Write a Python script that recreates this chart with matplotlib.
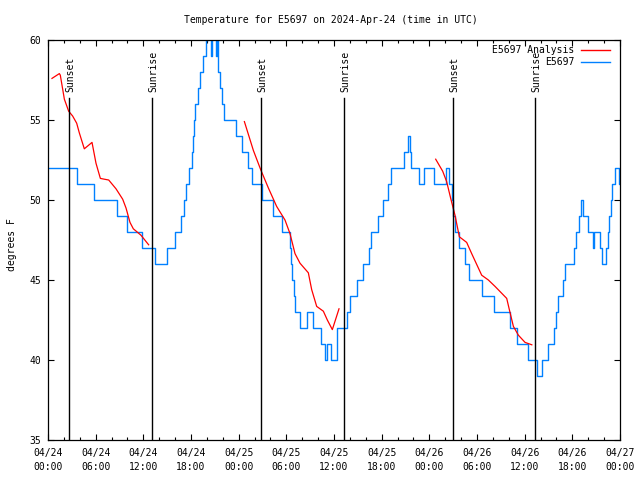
import matplotlib
matplotlib.use("Agg")
import matplotlib.pyplot as plt
from matplotlib.ticker import MultipleLocator
import numpy as np

# hours since 2024-04-24 00:00 UTC
obs_hours = [0.0, 3.7, 5.75, 8.73, 9.94, 11.79, 13.51, 15.02, 15.94, 16.7,
             17.08, 17.37, 17.79, 18.08, 18.21, 18.33, 18.5, 18.84, 19.13, 19.47,
             19.89, 20.1, 20.55, 20.7, 21.1, 21.25, 21.45, 21.65, 21.85, 22.2,
             23.7, 24.46, 25.13, 25.72, 26.9, 28.37, 29.4, 30.46, 30.59, 30.76,
             30.93, 31.09, 31.72, 32.6, 33.4, 34.41, 34.91, 35.16, 35.67, 36.34,
             37.6, 38.02, 38.86, 39.7, 40.45, 40.66, 41.54, 42.13, 42.76, 43.18,
             44.86, 45.28, 45.57, 45.74, 46.66, 47.37, 48.55, 50.1, 50.44, 50.86,
             51.0, 51.27, 51.78, 52.49, 53.04, 54.68, 56.19, 58.16, 59.0, 60.47,
             61.55, 62.23, 62.94, 63.65, 63.95, 64.24, 64.79, 65.08, 66.17, 66.47,
             66.8, 67.1, 67.39, 67.93, 68.56, 68.73, 69.53, 69.73, 70.24, 70.45,
             70.66, 70.83, 71.04, 71.42, 71.84, 72.0]
obs_temps = [52, 51, 50, 49, 48, 47, 46, 47, 48, 49,
             50, 51, 52, 53, 54, 55, 56, 57, 58, 59,
             60, 61, 59, 61, 59, 61, 58, 57, 56, 55,
             54, 53, 52, 51, 50, 49, 48, 47, 46, 45,
             44, 43, 42, 43, 42, 41, 40, 41, 40, 42,
             43, 44, 45, 46, 47, 48, 49, 50, 51, 52,
             53, 54, 53, 52, 51, 52, 51, 52, 51, 50,
             49, 48, 47, 46, 45, 44, 43, 42, 41, 40,
             39, 40, 41, 42, 43, 44, 45, 46, 47, 48,
             49, 50, 49, 48, 47, 48, 47, 46, 47, 48,
             49, 50, 51, 52, 51, 51]

ana_hours_1 = [0.5, 1.43, 1.55, 2.06, 2.6, 3.1, 3.61, 3.94, 4.57, 5.54, 6.04, 6.59,
               7.09, 7.64, 8.56, 9.4, 9.82, 10.32, 10.74, 11.7, 12.67]
ana_temps_1 = [57.6, 57.9, 57.8, 56.3, 55.55, 55.25, 54.8, 54.2, 53.2, 53.6, 52.3, 51.35,
               51.3, 51.25, 50.7, 50.05, 49.5, 48.6, 48.2, 47.8, 47.2]
ana_hours_2 = [24.72, 25.85, 26.77, 27.74, 28.78, 29.83, 30.46, 31.09, 31.72, 32.77,
               33.19, 33.82, 34.66, 35.16, 35.79, 36.63]
ana_temps_2 = [54.9, 53.1, 51.9, 50.75, 49.6, 48.75, 47.9, 46.65, 46.05, 45.45,
               44.4, 43.35, 43.05, 42.5, 41.9, 43.2]
ana_hours_3 = [48.8, 49.68, 50.18, 50.69, 51.23, 51.78, 52.7, 53.33, 54.59, 55.43,
               56.27, 57.74, 58.07, 58.58, 59.21, 60.05, 60.9]
ana_temps_3 = [52.55, 51.8, 51.15, 50.1, 49.05, 47.7, 47.35, 46.65, 45.3, 45.0,
               44.6, 43.85, 43.15, 42.1, 41.55, 41.1, 40.95]

sunset_hours = [2.68, 26.85, 51.02]
sunrise_hours = [13.13, 37.3, 61.34]

xtick_hours = [0, 6, 12, 18, 24, 30, 36, 42, 48, 54, 60, 66, 72]
xtick_labels = ["04/24\n00:00", "04/24\n06:00", "04/24\n12:00", "04/24\n18:00",
                "04/25\n00:00", "04/25\n06:00", "04/25\n12:00", "04/25\n18:00",
                "04/26\n00:00", "04/26\n06:00", "04/26\n12:00", "04/26\n18:00",
                "04/27\n00:00"]

plt.rcParams['font.family'] = ['DejaVu Sans Mono']
plt.rcParams['font.size'] = 7

fig = plt.figure(figsize=(6.4, 4.8), dpi=100)
ax = fig.add_axes([48/640, 40/480, 572/640, 400/480])

blue = '#0080ff'
red = '#ff0000'

ax.plot(obs_hours, obs_temps, drawstyle='steps-post', color=blue, lw=1.0)
for hh, tt in [(ana_hours_1, ana_temps_1), (ana_hours_2, ana_temps_2), (ana_hours_3, ana_temps_3)]:
    ax.plot(hh, tt, color=red, lw=0.9)

# sunset / sunrise markers
line_top = 56.375
for name, hours in [("Sunset", sunset_hours), ("Sunrise", sunrise_hours)]:
    for h in hours:
        ax.plot([h, h], [35, line_top], color='black', lw=1.0)
        ax.text(h + 0.15, line_top + 0.4, name, rotation=90, ha='center', va='bottom',
                fontsize=7)

ax.set_xlim(0, 72)
ax.set_ylim(35, 60)
ax.set_xticks(xtick_hours)
ax.set_xticklabels(xtick_labels, linespacing=1.5)
ax.xaxis.set_minor_locator(MultipleLocator(2))
ax.set_yticks([35, 40, 45, 50, 55, 60])
ax.tick_params(which='both', direction='in', top=True, right=True, width=0.8)
ax.tick_params(which='major', length=4, pad=6, labelsize=7)
ax.tick_params(which='minor', length=2.5)
ax.tick_params(axis='y', pad=5)
for s in ax.spines.values():
    s.set_linewidth(0.9)

# legend, gnuplot style (no box, text right-aligned left of sample)
ax.text(0.9196, 0.975, "E5697 Analysis", transform=ax.transAxes, ha='right', va='center')
ax.plot([0.9318, 0.9825], [0.975, 0.975], transform=ax.transAxes, color=red, lw=1.0)
ax.text(0.9196, 0.945, "E5697", transform=ax.transAxes, ha='right', va='center')
ax.plot([0.9318, 0.9825], [0.945, 0.945], transform=ax.transAxes, color=blue, lw=1.0)

fig.text(331/640, 1 - 20/480, "Temperature for E5697 on 2024-Apr-24 (time in UTC)",
         ha='center', va='center', fontsize=7)
fig.text(12/640, 0.49, "degrees F", rotation=90, ha='center', va='center', fontsize=7)

fig.savefig("out.png", dpi=100)
